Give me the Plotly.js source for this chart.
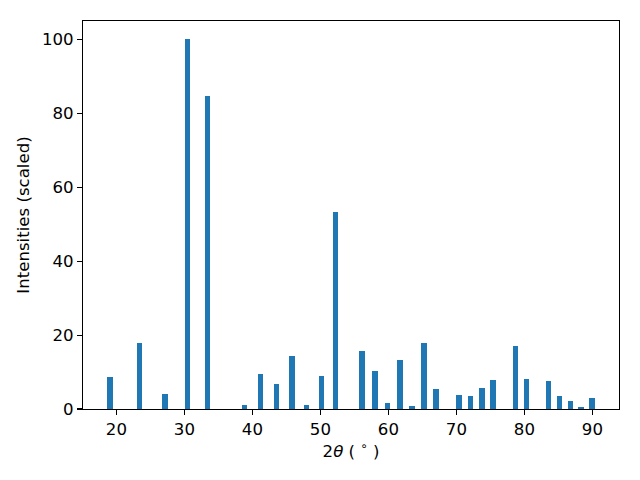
<!DOCTYPE html>
<html>
<head>
<meta charset="utf-8">
<script src="https://cdn.plot.ly/plotly-3.0.1.min.js"></script>
<style>html,body{margin:0;padding:0;background:#fff;}#chart{width:640px;height:480px;}</style>
</head>
<body>
<div id="chart"></div>
<script>
// 2-theta peak positions (degrees)
const twoTheta = [19.07, 23.38, 27.16, 30.44, 33.38, 38.82, 41.22, 43.57, 45.85, 47.93,
  50.18, 52.24, 56.10, 58.01, 59.85, 61.72, 63.49, 65.25, 67.01, 70.40,
  72.09, 73.78, 75.40, 78.71, 80.32, 83.54, 85.16, 86.78, 88.32, 89.93];
// scaled intensities
const intensities = [8.7, 17.9, 4.1, 100, 84.8, 1.1, 9.5, 6.8, 14.4, 1.1,
  8.9, 53.4, 15.7, 10.3, 1.6, 13.3, 0.8, 17.9, 5.4, 3.8,
  3.5, 5.7, 7.9, 17.1, 8.1, 7.6, 3.5, 2.2, 0.5, 3.0];
const xTicks = [20, 30, 40, 50, 60, 70, 80, 90];
const yTicks = [0, 20, 40, 60, 80, 100];

const font = {family: 'DejaVu Sans', size: 16.6, color: '#000'};
const trace = {
  type: 'bar', x: twoTheta, y: intensities, width: 0.8,
  marker: {color: '#1f77b4', line: {width: 0}}
};
const axisCommon = {
  showgrid: false, zeroline: false, showline: true, mirror: true,
  linecolor: '#000', linewidth: 1.1, ticks: 'outside', ticklen: 5,
  tickwidth: 1.1, tickcolor: '#000', tickfont: font
};
const layout = {
  width: 640, height: 480,
  margin: {l: 83, r: 21, t: 21, b: 71},
  paper_bgcolor: '#fff', plot_bgcolor: '#fff',
  showlegend: false, bargap: 0,
  xaxis: Object.assign({}, axisCommon, {
    range: [15.09, 93.91], tickvals: xTicks, ticktext: xTicks.map(String),
    title: {text: '2<i>θ</i> ( <sup>∘</sup> )', font: font, standoff: 7}
  }),
  yaxis: Object.assign({}, axisCommon, {
    range: [0, 105], tickvals: yTicks, ticktext: yTicks.map(String),
    title: {text: 'Intensities (scaled)', font: font, standoff: 8}
  })
};
Plotly.newPlot('chart', [trace], layout, {displayModeBar: false, staticPlot: true});
</script>
</body>
</html>
